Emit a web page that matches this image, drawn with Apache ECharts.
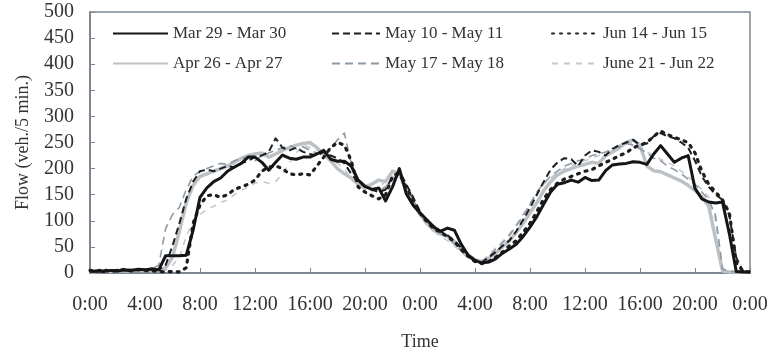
<!DOCTYPE html>
<html>
<head>
<meta charset="utf-8">
<script src="https://cdn.jsdelivr.net/npm/echarts@6/dist/echarts.min.js"></script>
<style>
html,body{margin:0;padding:0;background:#fff;}
#chart{width:771px;height:353px;}
</style>
</head>
<body>
<div id="chart"></div>
<script>
// Tick labels for the time axis (every 4 hours over two days)
const timeTickLabels = ["0:00","4:00","8:00","12:00","16:00","20:00","0:00","4:00","8:00","12:00","16:00","20:00","0:00"];
// Series names
const seriesNames = ["Mar 29 - Mar 30","Apr 26 - Apr 27","May 10 - May 11","May 17 - May 18","Jun 14 - Jun 15","June 21 - Jun 22"];
// Flow values (veh./5 min.), sampled every 30 minutes from 0:00 day 1 to 0:00 day 3
const mar29 = [3,4,3,5,4,6,5,7,6,8,
 6,33,33,33,34,82,145,163,175,182,
 195,203,210,222,222,212,197,212,226,220,
 218,222,222,228,235,218,214,214,205,178,
 166,160,163,138,165,200,152,130,115,102,
 88,80,86,82,55,34,24,19,21,27,
 38,46,55,70,88,108,132,155,170,173,
 178,174,183,177,178,196,207,209,210,213,
 212,208,228,244,228,212,220,225,162,142,
 136,134,136,75,3,2,2];
const apr26 = [2,3,4,3,5,4,6,5,6,5,
 5,10,30,80,135,168,185,190,195,200,
 205,212,220,225,228,230,222,228,235,240,
 245,248,250,240,228,215,200,190,182,170,
 165,170,178,175,195,190,160,135,112,95,
 82,75,70,60,48,35,25,22,28,38,
 50,62,78,95,115,135,158,175,188,195,
 200,205,208,212,210,225,232,240,250,255,
 245,205,196,194,188,182,176,168,158,146,
 128,65,4,2,2,2,2];
const may10 = [4,3,5,4,6,5,4,6,5,7,
 6,15,52,95,142,175,195,198,195,200,
 205,202,210,215,222,225,232,258,240,235,
 240,232,228,225,232,225,220,210,190,175,
 165,160,155,160,185,195,170,145,118,100,
 90,80,72,62,48,35,25,20,30,40,
 52,62,80,102,125,150,175,198,212,220,
 218,205,225,235,232,225,238,245,250,255,
 245,248,262,268,262,258,250,240,215,185,
 165,150,140,110,30,3,2];
const may17 = [3,5,4,6,4,5,7,5,6,8,
 15,85,112,126,160,185,195,200,205,210,
 208,215,220,222,215,225,230,235,240,245,
 238,242,235,230,225,240,255,268,210,180,
 168,160,158,165,180,185,165,140,115,98,
 85,75,68,55,42,30,22,22,32,45,
 58,72,90,110,132,155,172,185,195,205,
 210,215,218,225,228,232,238,242,248,245,
 238,230,220,215,205,198,190,180,170,155,
 140,110,8,3,2,2,2];
const jun14 = [5,4,6,3,5,7,4,6,5,4,
 3,2,3,2,10,95,130,148,150,145,
 150,160,165,170,178,195,203,205,200,190,
 188,190,188,205,222,240,250,245,215,165,
 155,148,142,150,185,190,165,140,115,98,
 85,78,70,60,45,32,22,18,22,30,
 40,52,62,78,95,118,142,160,172,180,
 185,190,195,198,205,212,218,225,230,240,
 245,250,262,272,265,260,255,250,230,195,
 170,155,140,115,20,3,2];
const jun21 = [2,3,2,4,3,2,3,4,2,3,
 3,5,15,30,70,100,112,122,128,135,
 140,150,158,165,172,175,172,175,190,210,
 230,245,240,235,230,225,210,200,180,168,
 160,155,165,175,185,180,160,138,112,95,
 80,70,62,52,40,28,20,22,35,48,
 60,75,92,112,132,152,170,182,192,200,
 205,212,215,220,225,230,235,245,252,248,
 240,232,225,218,212,205,195,185,172,160,
 145,100,5,2,2,2,2];

const hours = mar29.map((_, i) => i * 0.5);
const pair = arr => arr.map((v, i) => [hours[i], v]);

const FONT = "'Liberation Serif','Times New Roman',serif";
const TXT = '#333';
const AX = '#7f8891';

const chart = echarts.init(document.getElementById('chart'), null, {renderer: 'canvas'});

function mk(name, data, color, width, type, cap) {
  return {
    name: name, type: 'line', data: pair(data), symbol: 'none', smooth: false,
    lineStyle: {color: color, width: width, type: type, cap: cap || 'butt', join: 'round'},
    itemStyle: {color: color},
    emphasis: {disabled: true}, animation: false
  };
}

const legendCommon = {
  orient: 'vertical', top: 20, itemHeight: 14, itemGap: 13,
  textStyle: {fontFamily: FONT, fontSize: 17, color: TXT},
  itemStyle: {color: 'rgba(0,0,0,0)', borderColor: 'rgba(0,0,0,0)', borderWidth: 0, opacity: 0},
  selectedMode: false
};

chart.setOption({
  backgroundColor: '#fff',
  animation: false,
  grid: {left: 90, right: 21, top: 12, bottom: 80, show: true, borderColor: AX, borderWidth: 1.5,
    backgroundColor: 'transparent', outerBoundsMode: 'none', containLabel: false},
  legend: [
    Object.assign({}, legendCommon, {left: 107, itemWidth: 55, data: [seriesNames[0], seriesNames[1]]}),
    Object.assign({}, legendCommon, {left: 326, itemWidth: 48, data: [seriesNames[2], seriesNames[3]]}),
    Object.assign({}, legendCommon, {left: 546, itemWidth: 46, data: [seriesNames[4], seriesNames[5]]})
  ],
  xAxis: {
    type: 'value', min: 0, max: 48, interval: 4,
    name: 'Time', nameLocation: 'middle', nameGap: 60,
    nameTextStyle: {fontFamily: FONT, fontSize: 18, color: TXT},
    axisLine: {show: true, lineStyle: {color: AX, width: 2}},
    axisTick: {show: true, inside: true, length: 5, lineStyle: {color: AX, width: 1}},
    splitLine: {show: false},
    axisLabel: {fontFamily: FONT, fontSize: 20, color: TXT, margin: 22,
      formatter: v => timeTickLabels[Math.round(v / 4)] || ''}
  },
  yAxis: {
    type: 'value', min: 0, max: 500, interval: 50,
    name: 'Flow (veh./5 min.)', nameLocation: 'middle', nameGap: 58, nameRotate: 90,
    nameTextStyle: {fontFamily: FONT, fontSize: 18, color: TXT},
    axisLine: {show: true, lineStyle: {color: AX, width: 2}},
    axisTick: {show: true, inside: true, length: 5, lineStyle: {color: AX, width: 1}},
    splitLine: {show: false},
    axisLabel: {fontFamily: FONT, fontSize: 20, color: TXT, margin: 16}
  },
  series: [
    mk(seriesNames[5], jun21, '#c3c9cf', 1.6, [6, 6]),
    mk(seriesNames[1], apr26, '#bcc1c6', 3.5, 'solid'),
    mk(seriesNames[3], may17, '#8d99a5', 1.6, [8, 5]),
    mk(seriesNames[4], jun14, '#1e1e1e', 3.2, [2, 6], 'round'),
    mk(seriesNames[2], may10, '#1e1e1e', 2, [7, 4]),
    mk(seriesNames[0], mar29, '#151515', 3, 'solid')
  ]
});
</script>
</body>
</html>
